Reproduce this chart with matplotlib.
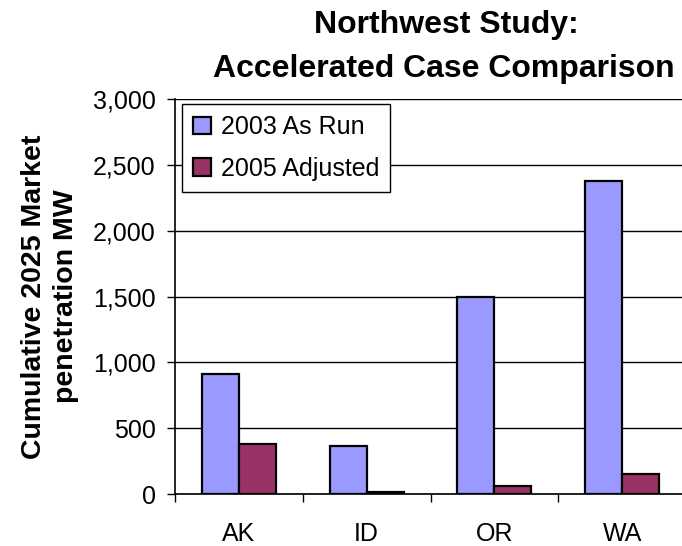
import matplotlib
matplotlib.use("Agg")
import matplotlib.pyplot as plt
import numpy as np

plt.rcParams['font.family'] = ['Liberation Sans', 'DejaVu Sans']

categories = ["AK", "ID", "OR", "WA"]
series_names = ["2003 As Run", "2005 Adjusted"]
as_run_2003 = [910, 365, 1500, 2380]
adjusted_2005 = [380, 15, 60, 150]
y_ticks = [0, 500, 1000, 1500, 2000, 2500, 3000]
colors = ["#9999FF", "#993366"]

fig = plt.figure(figsize=(6.82, 5.46), dpi=100)
left, bottom = 175 / 682, 1 - 494 / 546
width, height = (686 - 175) / 682, (494 - 99) / 546
ax = fig.add_axes([left, bottom, width, height])

x = np.arange(len(categories))
bw = 0.29
ax.bar(x - bw / 2, as_run_2003, bw, color=colors[0], edgecolor="black",
       linewidth=1.6, label=series_names[0], zorder=3)
ax.bar(x + bw / 2, adjusted_2005, bw, color=colors[1], edgecolor="black",
       linewidth=1.6, label=series_names[1], zorder=3)

ax.set_xlim(-0.5, 3.5)
ax.set_ylim(0, 3000)
ax.set_yticks(y_ticks)
ax.set_yticklabels([f"{v:,}" for v in y_ticks])
ax.yaxis.grid(True, color="black", linewidth=1.0, zorder=0)
ax.set_axisbelow(True)

ax.set_xticks(x)
ax.set_xticklabels(categories)
ax.set_xticks([-0.5, 0.5, 1.5, 2.5], minor=True)
ax.tick_params(axis="x", which="major", length=0, pad=20, labelsize=18)
ax.tick_params(axis="x", which="minor", length=6, width=1, direction="out")
ax.tick_params(axis="y", length=6, width=1, pad=8, labelsize=18)

for s in ["top", "right"]:
    ax.spines[s].set_visible(False)
ax.spines["left"].set_linewidth(1.2)
ax.spines["bottom"].set_linewidth(1.2)

ax.set_ylabel("Cumulative 2025 Market\npenetration MW", fontsize=20.5,
              fontweight="bold", linespacing=1.3, labelpad=10)

leg = ax.legend(loc="upper left", bbox_to_anchor=(182 / 682, 1 - 104 / 546),
                bbox_transform=fig.transFigure, fontsize=18, frameon=True,
                fancybox=False, edgecolor="black", framealpha=1,
                handlelength=0.7, handleheight=0.7, handletextpad=0.4,
                borderpad=0.45, labelspacing=0.7, borderaxespad=0)
leg.get_frame().set_linewidth(1.0)

fig.text(446 / 682, 1 - 33 / 546, "Northwest Study:", ha="center",
         va="baseline", fontsize=23, fontweight="bold")
fig.text(444 / 682, 1 - 77 / 546, "Accelerated Case Comparison", ha="center",
         va="baseline", fontsize=23, fontweight="bold")

fig.savefig("out.png", dpi=100)
